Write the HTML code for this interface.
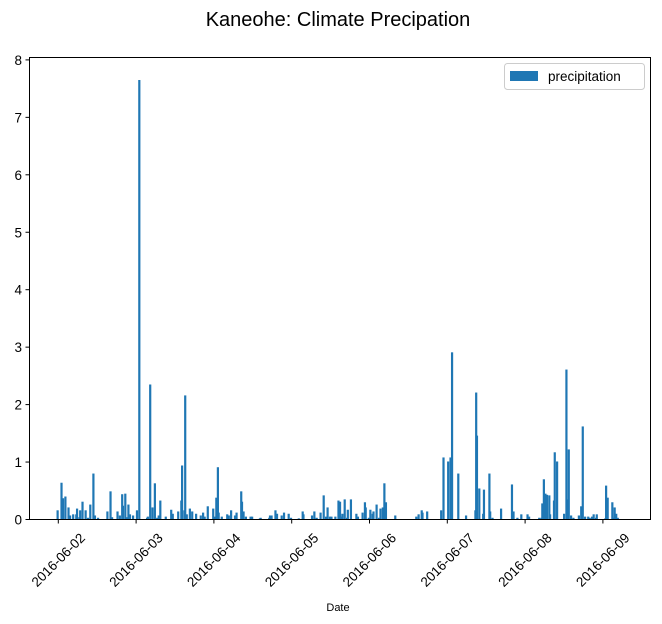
<!DOCTYPE html>
<html><head><meta charset="utf-8"><style>
html,body{margin:0;padding:0;background:#fff;}
svg{display:block;font-family:"Liberation Sans","DejaVu Sans",sans-serif;}
</style></head><body>
<svg id="chart" width="662" height="624" viewBox="0 0 662 624">
<text x="338" y="26" font-size="20" text-anchor="middle" fill="#000">Kaneohe: Climate Precipation</text>
<g id="bars"></g>
<g id="axes"></g>
<rect x="29.5" y="57.5" width="621" height="462" fill="none" stroke="#000" stroke-width="1"/>
<g>
<rect x="504.5" y="63.5" width="140" height="26" rx="3" fill="#fff" stroke="#ccc"/>
<rect x="510" y="71" width="28" height="10" fill="#1f77b4"/>
<text x="548" y="81" font-size="13.5" fill="#000">precipitation</text>
</g>
<text x="338" y="611" font-size="11" text-anchor="middle" fill="#000">Date</text>
</svg>
<script>
var dayOffsets=[-0.01,0.04,0.06,0.09,0.13,0.15,0.19,0.23,0.24,0.27,0.28,0.31,0.35,0.38,0.41,0.45,0.47,0.51,0.63,0.67,0.69,0.76,0.79,0.82,0.83,0.86,0.88,0.90,0.92,0.96,1.01,1.04,1.14,1.15,1.18,1.21,1.24,1.27,1.29,1.31,1.38,1.45,1.47,1.54,1.58,1.59,1.62,1.63,1.65,1.69,1.72,1.77,1.83,1.86,1.88,1.92,1.99,2.01,2.03,2.05,2.06,2.10,2.17,2.19,2.22,2.27,2.29,2.35,2.36,2.38,2.41,2.47,2.49,2.59,2.60,2.71,2.72,2.74,2.79,2.81,2.87,2.90,2.96,2.99,3.09,3.14,3.15,3.26,3.29,3.32,3.37,3.41,3.44,3.46,3.49,3.51,3.56,3.60,3.62,3.64,3.65,3.68,3.71,3.72,3.76,3.83,3.85,3.91,3.94,3.95,3.99,4.01,4.04,4.05,4.09,4.12,4.14,4.17,4.19,4.21,4.33,4.60,4.63,4.67,4.68,4.74,4.92,4.95,5.01,5.04,5.06,5.14,5.24,5.36,5.37,5.38,5.41,5.46,5.47,5.54,5.55,5.58,5.69,5.83,5.85,5.90,5.95,6.03,6.05,6.18,6.21,6.22,6.24,6.26,6.28,6.31,6.32,6.37,6.38,6.41,6.50,6.53,6.55,6.56,6.59,6.62,6.69,6.72,6.74,6.77,6.81,6.83,6.86,6.88,6.91,6.92,7.03,7.04,7.06,7.12,7.14,7.15,7.17,7.19];
var precipitation=[0.16,0.64,0.37,0.40,0.21,0.07,0.09,0.09,0.19,0.04,0.16,0.31,0.16,0.03,0.26,0.80,0.07,0.03,0.14,0.49,0.04,0.14,0.07,0.44,0.24,0.45,0.04,0.26,0.09,0.07,0.16,7.65,0.03,0.05,2.35,0.21,0.63,0.03,0.07,0.33,0.05,0.17,0.10,0.14,0.33,0.94,0.16,2.16,0.09,0.19,0.14,0.10,0.07,0.12,0.05,0.23,0.19,0.05,0.38,0.91,0.12,0.05,0.09,0.07,0.16,0.07,0.12,0.49,0.31,0.14,0.05,0.05,0.05,0.02,0.03,0.03,0.07,0.07,0.16,0.10,0.07,0.12,0.10,0.03,0.02,0.14,0.09,0.07,0.14,0.03,0.12,0.42,0.05,0.21,0.05,0.05,0.05,0.33,0.31,0.05,0.10,0.35,0.03,0.17,0.35,0.10,0.05,0.12,0.30,0.21,0.03,0.17,0.10,0.14,0.26,0.03,0.19,0.21,0.63,0.30,0.07,0.05,0.09,0.16,0.12,0.14,0.16,1.08,1.01,1.08,2.91,0.80,0.07,0.16,2.21,1.46,0.54,0.10,0.52,0.80,0.14,0.03,0.19,0.61,0.14,0.03,0.09,0.09,0.05,0.03,0.03,0.28,0.70,0.45,0.43,0.42,0.09,0.33,1.17,1.01,0.10,2.61,0.35,1.22,0.07,0.03,0.07,0.23,1.62,0.05,0.05,0.03,0.05,0.09,0.03,0.09,0.02,0.59,0.38,0.30,0.03,0.21,0.10,0.03];
var xTickLabels=["2016-06-02","2016-06-03","2016-06-04","2016-06-05","2016-06-06","2016-06-07","2016-06-08","2016-06-09"];
var yTicks=[0,1,2,3,4,5,6,7,8];

var NS="http://www.w3.org/2000/svg";
function xScale(d){return 58.3+d*77.8;}
function yScale(v){return 519.5-v*57.45;}
var bars=document.getElementById('bars');
var axes=document.getElementById('axes');
for(var i=0;i<dayOffsets.length;i++){
  var r=document.createElementNS(NS,'rect');
  var x=xScale(dayOffsets[i]);
  r.setAttribute('x',x-1);
  r.setAttribute('width',2.2);
  r.setAttribute('y',yScale(precipitation[i]));
  r.setAttribute('height',yScale(0)-yScale(precipitation[i]));
  r.setAttribute('fill','#1f77b4');
  
  
  bars.appendChild(r);
}
for(var j=0;j<xTickLabels.length;j++){
  var tx=xScale(j);
  var l=document.createElementNS(NS,'line');
  l.setAttribute('x1',tx);l.setAttribute('x2',tx);l.setAttribute('y1',519.5);l.setAttribute('y2',523.5);
  l.setAttribute('stroke','#000');
  
  
  axes.appendChild(l);
  var t=document.createElementNS(NS,'text');
  t.setAttribute('x',tx);t.setAttribute('y',560);
  t.setAttribute('font-size','13.5');
  t.setAttribute('text-anchor','middle');
  t.setAttribute('dominant-baseline','central');
  t.setAttribute('transform','rotate(-45 '+tx+' 560)');
  t.textContent=xTickLabels[j];
  
  
  axes.appendChild(t);
}
for(var k=0;k<yTicks.length;k++){
  var ty=yScale(yTicks[k]);
  var yl=document.createElementNS(NS,'line');
  yl.setAttribute('x1',25.5);yl.setAttribute('x2',29.5);yl.setAttribute('y1',ty);yl.setAttribute('y2',ty);
  yl.setAttribute('stroke','#000');
  
  
  axes.appendChild(yl);
  var yt=document.createElementNS(NS,'text');
  yt.setAttribute('x',22);yt.setAttribute('y',ty+5);
  yt.setAttribute('font-size','13.5');
  yt.setAttribute('text-anchor','end');
  yt.textContent=yTicks[k];
  
  
  axes.appendChild(yt);
}
</script>
</body></html>
